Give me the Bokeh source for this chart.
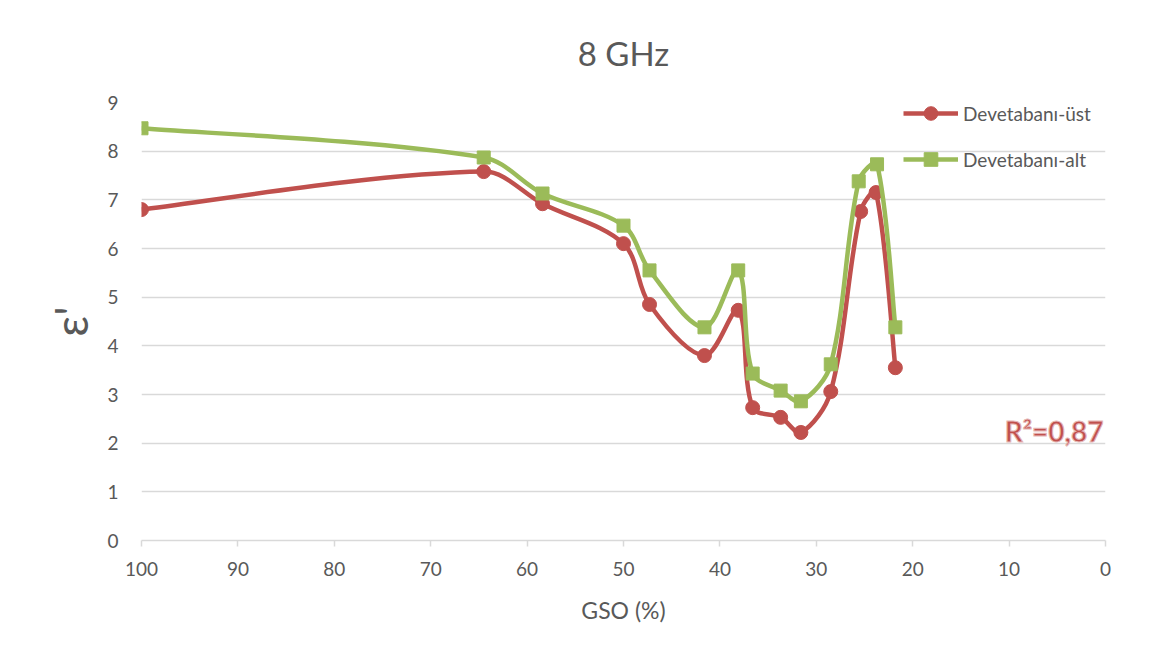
from bokeh.plotting import figure
from bokeh.models import Range1d, FixedTicker, Legend, LegendItem, Label
from bokeh.embed import file_html
from bokeh.resources import INLINE
import numpy as np

# Data (GSO %, dielectric constant eps')
gso_ust = [100, 64.5, 58.4, 50.0, 47.3, 41.6, 38.1, 36.6, 33.7, 31.6, 28.5, 25.4, 23.8, 21.8]
eps_ust = [6.80, 7.58, 6.92, 6.10, 4.85, 3.80, 4.73, 2.73, 2.53, 2.22, 3.06, 6.76, 7.15, 3.55]

gso_alt = [100, 64.5, 58.4, 50.0, 47.3, 41.6, 38.1, 36.6, 33.7, 31.6, 28.5, 25.6, 23.7, 21.8]
eps_alt = [8.47, 7.87, 7.13, 6.47, 5.55, 4.38, 5.55, 3.43, 3.08, 2.86, 3.62, 7.38, 7.73, 4.38]

x_ticks = [100, 90, 80, 70, 60, 50, 40, 30, 20, 10, 0]
y_ticks = [0, 1, 2, 3, 4, 5, 6, 7, 8, 9]

RED = "#c0504d"
GREEN = "#9bbb59"
TXT = "#595959"
GRID = "#d9d9d9"
FONT = "Lato"

W, H = 1136, 645
BL, BR, BT, BB = 141, 31, 102, 105
X0, X1, Y0, Y1 = 100, 0, 0, 9

p = figure(width=W, height=H, output_backend="svg", toolbar_location=None,
           x_range=Range1d(X0, X1), y_range=Range1d(Y0, Y1),
           min_border_left=BL, min_border_right=BR, min_border_top=BT, min_border_bottom=BB)
p.outline_line_color = None
p.border_fill_color = "white"

p.title.text = "8 GHz"
p.title.align = "center"
p.title.text_font = FONT
p.title.text_font_style = "normal"
p.title.text_font_size = "33px"
p.title.text_color = TXT
p.title.offset = 0
p.title.standoff = 60

p.xgrid.grid_line_color = None
p.ygrid.grid_line_color = GRID
p.ygrid.grid_line_width = 1.5
p.xaxis.ticker = FixedTicker(ticks=x_ticks)
p.yaxis.ticker = FixedTicker(ticks=y_ticks)

p.xaxis.axis_line_color = GRID
p.xaxis.axis_line_width = 1.5
p.xaxis.major_tick_line_color = GRID
p.xaxis.major_tick_line_width = 1.5
p.xaxis.major_tick_out = 6
p.xaxis.major_tick_in = 0
p.xaxis.minor_tick_line_color = None
p.xaxis.major_label_standoff = 15
p.xaxis.axis_label = "GSO (%)"
p.xaxis.axis_label_standoff = 17

p.yaxis.axis_line_color = None
p.yaxis.major_tick_line_color = None
p.yaxis.minor_tick_line_color = None
p.yaxis.major_label_standoff = 17
p.yaxis.axis_label = "ε'"
p.yaxis.axis_label_standoff = 6

for ax in (p.xaxis[0], p.yaxis[0]):
    ax.major_label_text_font = FONT
    ax.major_label_text_font_size = "19px"
    ax.major_label_text_color = TXT
    ax.axis_label_text_font = FONT
    ax.axis_label_text_font_style = "normal"
    ax.axis_label_text_color = TXT
p.xaxis.axis_label_text_font_size = "23px"
p.yaxis.axis_label_text_font_size = "46px"

# pixel scale of the frame, used only to shape the smoothed curves
SX = (W - BL - BR) / abs(X1 - X0)
SY = (H - BT - BB) / abs(Y1 - Y0)


def smooth(xs, ys):
    # Smoothed line as cubic Bezier segments (chord-length Catmull-Rom tangents in pixel space)
    P = np.column_stack([np.asarray(xs, float) * SX, np.asarray(ys, float) * SY])
    n = len(P)
    arm_prev = np.zeros_like(P)
    arm_next = np.zeros_like(P)
    for i in range(n):
        if i == 0:
            t = (P[1] - P[0]) / 6.0
            arm_next[i] = t
            arm_prev[i] = t
            continue
        if i == n - 1:
            t = (P[i] - P[i - 1]) / 6.0
            arm_next[i] = t
            arm_prev[i] = t
            continue
        T = P[i + 1] - P[i - 1]
        dp = np.hypot(*(P[i] - P[i - 1]))
        dn = np.hypot(*(P[i + 1] - P[i]))
        arm_prev[i] = T * dp / (dp + dn) / 3.0
        arm_next[i] = T * dn / (dp + dn) / 3.0
    c0 = P[:-1] + arm_next[:-1]
    c1 = P[1:] - arm_prev[1:]
    return dict(x0=P[:-1, 0] / SX, y0=P[:-1, 1] / SY, x1=P[1:, 0] / SX, y1=P[1:, 1] / SY,
                cx0=c0[:, 0] / SX, cy0=c0[:, 1] / SY, cx1=c1[:, 0] / SX, cy1=c1[:, 1] / SY)


items = []
for xs, ys, col, mk, name in [(gso_ust, eps_ust, RED, "circle", "Devetabanı-üst"),
                              (gso_alt, eps_alt, GREEN, "square", "Devetabanı-alt")]:
    d = smooth(xs, ys)
    p.bezier(x0=d["x0"], y0=d["y0"], x1=d["x1"], y1=d["y1"],
             cx0=d["cx0"], cy0=d["cy0"], cx1=d["cx1"], cy1=d["cy1"],
             line_color=col, line_width=4.5)
    sc = p.scatter(xs, ys, marker=mk, size=14 if mk == "circle" else 13,
                   fill_color=col, line_color=col)
    ln = p.line(x=xs[:1], y=ys[:1], line_color=col, line_width=4.5)
    items.append(LegendItem(label=name, renderers=[ln, sc]))

legend = Legend(items=items, location=(762, 364), padding=0, margin=0,
                spacing=12, glyph_width=55, glyph_height=34, label_height=18,
                label_standoff=5, border_line_alpha=0, background_fill_alpha=0,
                label_text_font=FONT, label_text_font_size="19px", label_text_color=TXT)
p.add_layout(legend, "center")

r2 = Label(x=0.2, y=2.26, text="R²=0,87", text_align="right", text_baseline="middle",
           text_font=FONT, text_font_style="bold", text_font_size="28px",
           text_color=RED, text_outline_color="#e6b9b8")
p.add_layout(r2)

open("out.html", "w").write(file_html(p, INLINE))
